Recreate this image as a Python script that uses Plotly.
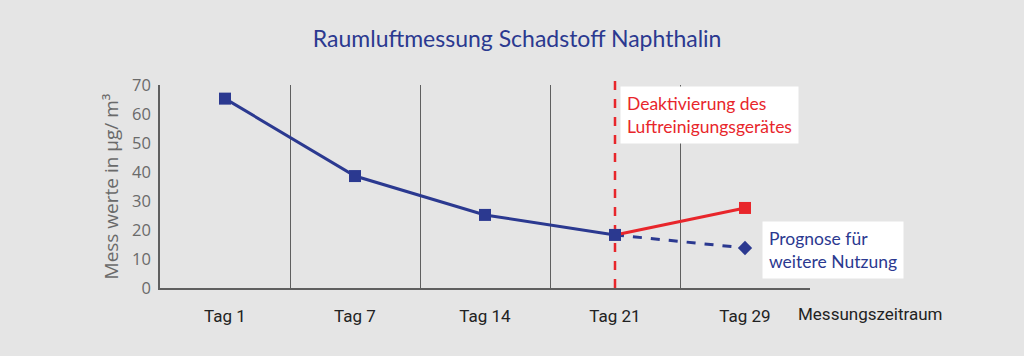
import plotly.graph_objects as go

categories = ["Tag 1", "Tag 7", "Tag 14", "Tag 21", "Tag 29"]
measured = [65.3, 38.6, 25.2, 18.3]          # Tag 1 .. Tag 21
after_deactivation = [18.3, 27.6]            # Tag 21 -> Tag 29 (red)
forecast = [18.3, 13.8]                      # Tag 21 -> Tag 29 (dashed blue)
y_ticks = [0, 10, 20, 30, 40, 50, 60, 70]

BLUE = "#2b3990"
RED = "#e8262b"
GRAY = "#5f5f5f"

fig = go.Figure()

# dashed forecast line + diamond end marker
fig.add_trace(go.Scatter(
    x=categories[3:5], y=forecast, mode="lines",
    line=dict(color=BLUE, width=3, dash="dash"),
    showlegend=False, hoverinfo="skip"))
fig.add_trace(go.Scatter(
    x=categories[4:5], y=forecast[1:], mode="markers",
    marker=dict(symbol="diamond", size=11, color=BLUE, line=dict(width=0)),
    showlegend=False))
# red continuation
fig.add_trace(go.Scatter(
    x=categories[3:5], y=after_deactivation, mode="lines",
    line=dict(color=RED, width=3),
    showlegend=False, hoverinfo="skip"))
fig.add_trace(go.Scatter(
    x=categories[4:5], y=after_deactivation[1:], mode="markers",
    marker=dict(symbol="square", size=12, color=RED, line=dict(width=0)),
    showlegend=False))
# measured
fig.add_trace(go.Scatter(
    x=categories[0:4], y=measured, mode="lines+markers",
    line=dict(color=BLUE, width=3),
    marker=dict(symbol="square", size=12, color=BLUE, line=dict(width=0)),
    showlegend=False))

# red dashed vertical marker at Tag 21
fig.add_shape(type="line", xref="x", yref="paper",
              x0=categories[3], x1=categories[3], y0=0, y1=1.035,
              line=dict(color=RED, width=2.5, dash="dash"), layer="below")

fig.add_annotation(
    text="Deaktivierung des<br>Luftreinigungsgerätes",
    xref="paper", yref="paper", x=0.708, y=0.995, xanchor="left", yanchor="top",
    showarrow=False, align="left", bgcolor="white", borderpad=6,
    font=dict(family="Lato, Open Sans, sans-serif", size=17.5, color=RED))
fig.add_annotation(
    text="Prognose für<br>weitere Nutzung",
    xref="paper", yref="paper", x=0.926, y=0.33, xanchor="left", yanchor="top",
    showarrow=False, align="left", bgcolor="white", borderpad=6,
    font=dict(family="Lato, Open Sans, sans-serif", size=17.5, color=BLUE))
fig.add_annotation(
    text="Messungszeitraum", xref="paper", yref="paper",
    x=1.092, y=-0.13, xanchor="center", yanchor="middle", showarrow=False,
    font=dict(family="Liberation Sans Narrow, Roboto, sans-serif", size=17, color="#222222"))

fig.update_layout(
    width=1024, height=356,
    margin=dict(l=160, r=214, t=85, b=68, autoexpand=False),
    paper_bgcolor="#e5e5e5", plot_bgcolor="rgba(0,0,0,0)",
    title=dict(text="Raumluftmessung Schadstoff Naphthalin", x=0.505, xanchor="center",
               y=0.89, yanchor="middle",
               font=dict(family="Lato, Open Sans, sans-serif", size=23, color=BLUE)),
    xaxis=dict(type="category", categoryorder="array", categoryarray=categories,
               range=[-0.5, 4.5], tickson="boundaries", showgrid=True, automargin=False,
               gridcolor=GRAY, gridwidth=1, showline=True, linecolor=GRAY, linewidth=2,
               ticks="", ticklen=0, ticklabelstandoff=12,
               tickfont=dict(family="Liberation Sans Narrow, Roboto, sans-serif", size=17, color="#222222"),
               zeroline=False, fixedrange=True),
    yaxis=dict(range=[0, 70], tickvals=y_ticks, showgrid=False, zeroline=False, automargin=False,
               showline=True, linecolor=GRAY, linewidth=1.5, ticks="", ticklabelstandoff=4,
               tickfont=dict(family="Open Sans, sans-serif", size=16.5, color="#6a6a6a"),
               title=dict(text="Mess werte in µg/ m³", standoff=8,
                          font=dict(family="Open Sans, sans-serif", size=19, color="#6a6a6a")),
               fixedrange=True),
)

fig.write_html("out.html", config={"displayModeBar": False},
               post_script="document.body.style.margin='0px';document.body.style.background='#e5e5e5';")
